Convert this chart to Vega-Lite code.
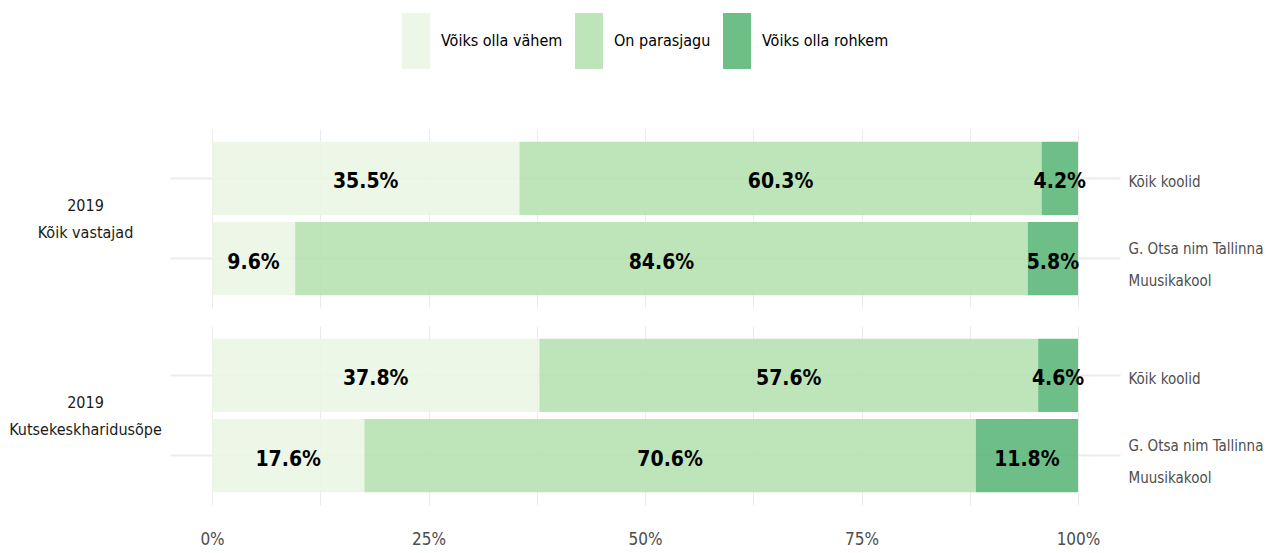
{
  "$schema": "https://vega.github.io/schema/vega-lite/v6.json",
  "padding": {"left": 8, "top": 13, "right": 0, "bottom": 2},
  "background": "white",
  "config": {
    "font": "DejaVu Sans Condensed, Liberation Sans, sans-serif",
    "view": {"stroke": null},
    "legend": {"layout": {"top": {"anchor": "middle"}}}
  },
  "datasets": {
    "d": [
      {"group": "2019|Kõik vastajad", "school": "Kõik koolid", "cat": "Võiks olla vähem", "order": 1, "value": 0.355},
      {"group": "2019|Kõik vastajad", "school": "Kõik koolid", "cat": "On parasjagu", "order": 2, "value": 0.603},
      {"group": "2019|Kõik vastajad", "school": "Kõik koolid", "cat": "Võiks olla rohkem", "order": 3, "value": 0.042},
      {"group": "2019|Kõik vastajad", "school": "G. Otsa nim Tallinna|Muusikakool", "cat": "Võiks olla vähem", "order": 1, "value": 0.096},
      {"group": "2019|Kõik vastajad", "school": "G. Otsa nim Tallinna|Muusikakool", "cat": "On parasjagu", "order": 2, "value": 0.846},
      {"group": "2019|Kõik vastajad", "school": "G. Otsa nim Tallinna|Muusikakool", "cat": "Võiks olla rohkem", "order": 3, "value": 0.058},
      {"group": "2019|Kutsekeskharidusõpe", "school": "Kõik koolid", "cat": "Võiks olla vähem", "order": 1, "value": 0.378},
      {"group": "2019|Kutsekeskharidusõpe", "school": "Kõik koolid", "cat": "On parasjagu", "order": 2, "value": 0.576},
      {"group": "2019|Kutsekeskharidusõpe", "school": "Kõik koolid", "cat": "Võiks olla rohkem", "order": 3, "value": 0.046},
      {"group": "2019|Kutsekeskharidusõpe", "school": "G. Otsa nim Tallinna|Muusikakool", "cat": "Võiks olla vähem", "order": 1, "value": 0.176},
      {"group": "2019|Kutsekeskharidusõpe", "school": "G. Otsa nim Tallinna|Muusikakool", "cat": "On parasjagu", "order": 2, "value": 0.706},
      {"group": "2019|Kutsekeskharidusõpe", "school": "G. Otsa nim Tallinna|Muusikakool", "cat": "Võiks olla rohkem", "order": 3, "value": 0.118}
    ]
  },
  "spacing": 18,
  "vconcat": [
    {
      "data": {"name": "d"},
      "width": 866,
      "height": 179,
      "transform": [
        {"filter": "datum.group == '2019|Kõik vastajad'"},
        {"stack": "value", "groupby": ["school"], "sort": [{"field": "order", "order": "ascending"}], "as": ["x0", "x1"]},
        {"calculate": "(datum.x0 + datum.x1) / 2", "as": "mid"}
      ],
      "layer": [
        {
          "mark": {"type": "bar", "opacity": 0.9},
          "encoding": {
            "y": {
              "field": "school", "type": "nominal",
              "sort": ["Kõik koolid", "G. Otsa nim Tallinna|Muusikakool"],
              "scale": {"paddingInner": 0.09, "paddingOuter": 0.16},
              "title": null,
              "axis": {
                "orient": "right", "domain": false, "grid": true, "gridColor": "#ebebeb", "gridWidth": 2,
                "tickSize": 42, "tickColor": "#ebebeb", "tickWidth": 2,
                "labelPadding": 8, "labelExpr": "split(datum.value, '|')",
                "labelFontSize": 15, "labelLineHeight": 32, "labelColor": "#4d4d4d",
                "labelAlign": "left", "labelBaseline": "middle", "labelLimit": 300,
                "labelOffset": {"condition": {"test": "indexof(datum.value, '|') >= 0", "value": -10}, "value": 4}
              }
            },
            "x": {
              "field": "x0", "type": "quantitative",
              "scale": {"domain": [0, 1], "nice": false}, "title": null,
              "axis": {
                "values": [0, 0.125, 0.25, 0.375, 0.5, 0.625, 0.75, 0.875, 1],
                "labels": false, "domain": false, "ticks": false,
                "grid": true, "gridColor": "#ebebeb", "gridWidth": 1
              }
            },
            "x2": {"field": "x1"},
            "fill": {
              "field": "cat", "type": "nominal", "title": null,
              "scale": {
                "domain": ["Võiks olla vähem", "On parasjagu", "Võiks olla rohkem"],
                "range": ["#ebf6e4", "#b7e2b3", "#5db77a"]
              },
              "legend": {
                "orient": "top", "direction": "horizontal",
                "symbolType": "M-1,-1H0V1H-1Z", "symbolSize": 3136,
                "symbolStrokeWidth": 0, "symbolOpacity": 0.9,
                "labelFontSize": 16, "labelColor": "#000000",
                "labelOffset": -17, "columnPadding": 12, "offset": 60
              }
            }
          }
        },
        {
          "mark": {"type": "text", "fontWeight": "bold", "fontSize": 21, "color": "#000000", "baseline": "middle", "align": "center", "dy": 4},
          "encoding": {
            "y": {
              "field": "school", "type": "nominal",
              "sort": ["Kõik koolid", "G. Otsa nim Tallinna|Muusikakool"],
              "title": ["2019", "Kõik vastajad"],
              "axis": {
                "orient": "left", "domain": false, "grid": false, "labels": false,
                "tickSize": 42, "tickColor": "#ebebeb", "tickWidth": 2,
                "titleAngle": 0, "titleAlign": "center", "titleBaseline": "middle",
                "titleX": -127, "titleY": 76, "titleFontSize": 16, "titleFontWeight": "normal",
                "titleLineHeight": 27, "titleColor": "#1a1a1a"
              }
            },
            "x": {"field": "mid", "type": "quantitative"},
            "text": {"field": "value", "type": "quantitative", "format": ".1%"}
          }
        }
      ],
      "resolve": {"axis": {"y": "independent"}}
    },
    {
      "data": {"name": "d"},
      "width": 866,
      "height": 179,
      "transform": [
        {"filter": "datum.group == '2019|Kutsekeskharidusõpe'"},
        {"stack": "value", "groupby": ["school"], "sort": [{"field": "order", "order": "ascending"}], "as": ["x0", "x1"]},
        {"calculate": "(datum.x0 + datum.x1) / 2", "as": "mid"}
      ],
      "layer": [
        {
          "mark": {"type": "bar", "opacity": 0.9},
          "encoding": {
            "y": {
              "field": "school", "type": "nominal",
              "sort": ["Kõik koolid", "G. Otsa nim Tallinna|Muusikakool"],
              "scale": {"paddingInner": 0.09, "paddingOuter": 0.16},
              "title": null,
              "axis": {
                "orient": "right", "domain": false, "grid": true, "gridColor": "#ebebeb", "gridWidth": 2,
                "tickSize": 42, "tickColor": "#ebebeb", "tickWidth": 2,
                "labelPadding": 8, "labelExpr": "split(datum.value, '|')",
                "labelFontSize": 15, "labelLineHeight": 32, "labelColor": "#4d4d4d",
                "labelAlign": "left", "labelBaseline": "middle", "labelLimit": 300,
                "labelOffset": {"condition": {"test": "indexof(datum.value, '|') >= 0", "value": -10}, "value": 4}
              }
            },
            "x": {
              "field": "x0", "type": "quantitative",
              "scale": {"domain": [0, 1], "nice": false}, "title": null,
              "axis": {
                "values": [0, 0.125, 0.25, 0.375, 0.5, 0.625, 0.75, 0.875, 1],
                "labelExpr": "(datum.value * 4) % 1 == 0 ? format(datum.value, '.0%') : ''",
                "domain": false, "ticks": false,
                "grid": true, "gridColor": "#ebebeb", "gridWidth": 1,
                "labelFontSize": 17, "labelColor": "#4d4d4d", "labelPadding": 26, "labelFlush": false
              }
            },
            "x2": {"field": "x1"},
            "fill": {
              "field": "cat", "type": "nominal", "title": null,
              "scale": {
                "domain": ["Võiks olla vähem", "On parasjagu", "Võiks olla rohkem"],
                "range": ["#ebf6e4", "#b7e2b3", "#5db77a"]
              },
              "legend": null
            }
          }
        },
        {
          "mark": {"type": "text", "fontWeight": "bold", "fontSize": 21, "color": "#000000", "baseline": "middle", "align": "center", "dy": 4},
          "encoding": {
            "y": {
              "field": "school", "type": "nominal",
              "sort": ["Kõik koolid", "G. Otsa nim Tallinna|Muusikakool"],
              "title": ["2019", "Kutsekeskharidusõpe"],
              "axis": {
                "orient": "left", "domain": false, "grid": false, "labels": false,
                "tickSize": 42, "tickColor": "#ebebeb", "tickWidth": 2,
                "titleAngle": 0, "titleAlign": "center", "titleBaseline": "middle",
                "titleX": -127, "titleY": 76, "titleFontSize": 16, "titleFontWeight": "normal",
                "titleLineHeight": 27, "titleColor": "#1a1a1a"
              }
            },
            "x": {"field": "mid", "type": "quantitative"},
            "text": {"field": "value", "type": "quantitative", "format": ".1%"}
          }
        }
      ],
      "resolve": {"axis": {"y": "independent"}}
    }
  ],
  "resolve": {"scale": {"fill": "shared"}}
}
